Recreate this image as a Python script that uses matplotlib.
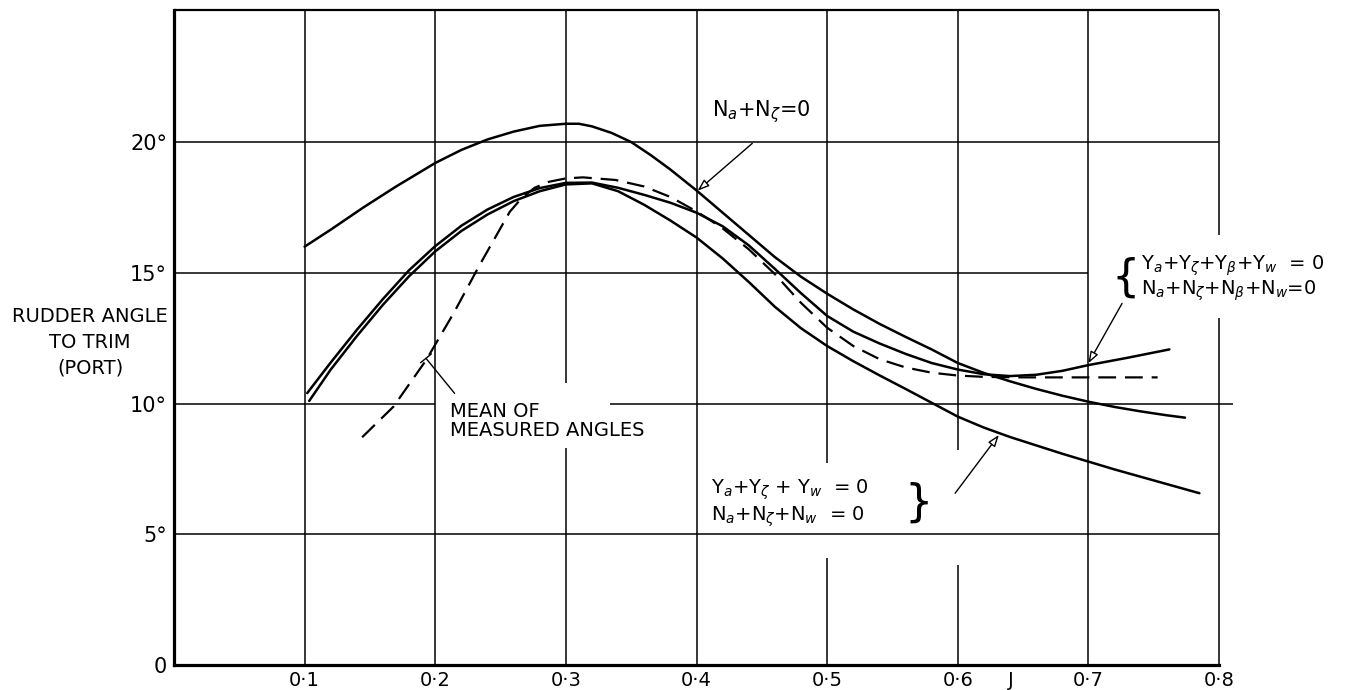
import matplotlib
matplotlib.use("Agg")
import matplotlib.pyplot as plt

plt.rcParams['font.family'] = ['DejaVu Sans']
plt.rcParams['mathtext.fontset'] = 'dejavusans'

# ---------------- data ----------------
# Curve: N_a + N_zeta = 0
j_nn = [0.100, 0.120, 0.145, 0.170, 0.200, 0.220, 0.240, 0.260, 0.280, 0.300,
        0.310, 0.320, 0.335, 0.350, 0.365, 0.380, 0.400, 0.420, 0.440, 0.460,
        0.480, 0.500, 0.520, 0.540, 0.560, 0.580, 0.600, 0.620, 0.640, 0.660,
        0.680, 0.700, 0.720, 0.740, 0.760, 0.774]
a_nn = [16.00, 16.65, 17.50, 18.30, 19.20, 19.70, 20.10, 20.40, 20.62, 20.70,
        20.70, 20.60, 20.35, 20.00, 19.50, 18.95, 18.15, 17.30, 16.45, 15.60,
        14.85, 14.20, 13.60, 13.05, 12.55, 12.07, 11.55, 11.17, 10.85, 10.56,
        10.30, 10.07, 9.87, 9.70, 9.55, 9.46]

# Curve: Y_a+Y_z+Y_b+Y_w = 0 , N_a+N_z+N_b+N_w = 0
j_full = [0.102, 0.120, 0.140, 0.160, 0.180, 0.200, 0.220, 0.240, 0.260, 0.280,
          0.300, 0.320, 0.340, 0.360, 0.380, 0.400, 0.420, 0.440, 0.460, 0.480,
          0.500, 0.520, 0.540, 0.560, 0.580, 0.600, 0.620, 0.640, 0.660, 0.680,
          0.700, 0.730, 0.762]
a_full = [10.40, 11.57, 12.82, 14.00, 15.10, 16.02, 16.80, 17.42, 17.90, 18.24,
          18.44, 18.45, 18.25, 17.98, 17.68, 17.30, 16.78, 16.05, 15.15, 14.22,
          13.35, 12.75, 12.30, 11.90, 11.55, 11.30, 11.12, 11.05, 11.10, 11.25,
          11.47, 11.75, 12.07]

# Curve: Y_a+Y_z+Y_w = 0 , N_a+N_z+N_w = 0
j_now = [0.1035, 0.120, 0.140, 0.160, 0.180, 0.200, 0.220, 0.240, 0.260, 0.280,
         0.300, 0.320, 0.340, 0.360, 0.380, 0.400, 0.420, 0.440, 0.460, 0.480,
         0.500, 0.520, 0.540, 0.560, 0.580, 0.600, 0.620, 0.640, 0.660, 0.680,
         0.700, 0.720, 0.740, 0.760, 0.785]
a_now = [10.10, 11.30, 12.58, 13.78, 14.87, 15.82, 16.60, 17.23, 17.74, 18.12,
         18.38, 18.42, 18.12, 17.60, 17.00, 16.35, 15.55, 14.65, 13.70, 12.88,
         12.20, 11.62, 11.08, 10.56, 10.03, 9.50, 9.08, 8.72, 8.40, 8.08,
         7.78, 7.48, 7.20, 6.92, 6.57]

# Mean of measured angles (dashed)
j_meas = [0.144, 0.168, 0.193, 0.214, 0.234, 0.257, 0.266, 0.276, 0.287, 0.300,
          0.313, 0.338, 0.360, 0.380, 0.400, 0.420, 0.440, 0.460, 0.480, 0.500,
          0.520, 0.540, 0.560, 0.580, 0.600, 0.620, 0.650, 0.700, 0.753]
a_meas = [8.71, 9.88, 11.66, 13.45, 15.30, 17.33, 17.85, 18.25, 18.48, 18.61,
          18.65, 18.55, 18.30, 17.90, 17.35, 16.70, 15.90, 14.95, 13.85, 12.90,
          12.20, 11.70, 11.38, 11.18, 11.07, 11.02, 11.00, 11.00, 11.00]

x_ticks = [0.1, 0.2, 0.3, 0.4, 0.5, 0.6, 0.7, 0.8]
x_tick_labels = ['0·1', '0·2', '0·3', '0·4', '0·5', '0·6', '0·7', '0·8']
y_ticks = [0, 5, 10, 15, 20]
y_tick_labels = ['0', '5°', '10°', '15°', '20°']

# ---------------- figure ----------------
W, H = 1356, 690
fig = plt.figure(figsize=(W / 100, H / 100), dpi=100)
ax = fig.add_axes([174 / W, 1 - 665 / H, (1219 - 174) / W, (665 - 9.5) / H])
ax.set_xlim(0, 0.8)
ax.set_ylim(0, 25.07)
ax.spines['top'].set_visible(False)
ax.spines['right'].set_visible(False)
ax.spines['left'].set_linewidth(2.3)
ax.spines['bottom'].set_linewidth(2.3)

top = 25.07
gk = dict(color='black', lw=1.1, clip_on=False, zorder=1)
# vertical grid lines (with the breaks of the original drawing)
ax.vlines(0.1, 0, top, **gk)
ax.vlines(0.2, 0, top, **gk)
ax.vlines(0.3, 10.78, top, **gk)
ax.vlines(0.3, 0, 8.3, **gk)
ax.vlines(0.4, 0, top, **gk)
ax.vlines(0.5, 7.72, top, **gk)
ax.vlines(0.5, 0, 4.09, **gk)
ax.vlines(0.6, 8.22, top, **gk)
ax.vlines(0.6, 0, 3.82, **gk)
ax.vlines(0.7, 0, top, **gk)
ax.vlines(0.8, 16.44, top, **gk)
ax.vlines(0.8, 0, 13.27, **gk)
# horizontal grid lines
ax.hlines(5, 0, 0.8, **gk)
ax.hlines(10, 0, 0.2, **gk)
ax.hlines(10, 0.334, 0.811, **gk)
ax.hlines(15, 0, 0.7, **gk)
ax.hlines(20, 0, 0.8, **gk)
ax.hlines(top, 0, 0.8, color='black', lw=1.6, clip_on=False, zorder=1)

ck = dict(color='black', lw=1.8, solid_capstyle='round', solid_joinstyle='round',
          zorder=3)
ax.plot(j_nn, a_nn, **ck)
ax.plot(j_full, a_full, **ck)
ax.plot(j_now, a_now, **ck)
ax.plot(j_meas, a_meas, color='black', lw=1.6, linestyle=(0, (8, 4)),
        dash_joinstyle='round', zorder=3)

# ticks
ax.set_xticks(x_ticks)
ax.set_xticklabels(x_tick_labels, fontsize=14)
ax.set_yticks(y_ticks)
ax.set_yticklabels(y_tick_labels, fontsize=15)
ax.tick_params(axis='both', length=0)
ax.tick_params(axis='x', pad=4)
ax.tick_params(axis='y', pad=5)
ax.annotate('J', xy=(0.641, 0), xycoords=('data', 'axes fraction'),
            xytext=(0, -4), textcoords='offset points', ha='center', va='top',
            fontsize=14)

# y axis title
for txt, yp in [('RUDDER ANGLE', 317), ('TO TRIM', 343), ('(PORT)', 368)]:
    fig.text(90 / W, 1 - yp / H, txt, ha='center', va='center', fontsize=14)

# annotations
arr = dict(arrowstyle='-|>,head_length=0.7,head_width=0.25', fc='white',
           ec='black', lw=1.0, shrinkA=0, shrinkB=0)

ax.text(0.4495, 21.15, r'N$_a$+N$_\zeta$=0', ha='center', va='center', fontsize=15)
ax.annotate('', xy=(0.4008, 18.14), xytext=(0.4427, 19.95), arrowprops=arr)

ax.text(0.7286, 14.8, '{', ha='center', va='center', fontsize=32, clip_on=False)
ax.text(0.740, 15.26, r'Y$_a$+Y$_\zeta$+Y$_\beta$+Y$_w$  = 0', ha='left', va='center',
        fontsize=14, clip_on=False)
ax.text(0.740, 14.30, r'N$_a$+N$_\zeta$+N$_\beta$+N$_w$=0', ha='left', va='center',
        fontsize=14, clip_on=False)
ax.annotate('', xy=(0.700, 11.54), xytext=(0.7258, 13.83), arrowprops=arr)

ax.text(0.411, 6.69, r'Y$_a$+Y$_\zeta$ + Y$_w$  = 0', ha='left', va='center', fontsize=14)
ax.text(0.411, 5.66, r'N$_a$+N$_\zeta$+N$_w$  = 0', ha='left', va='center', fontsize=14)
ax.text(0.570, 6.2, '}', ha='center', va='center', fontsize=32)
ax.annotate('', xy=(0.6315, 8.8), xytext=(0.598, 6.57), arrowprops=arr)

ax.text(0.211, 9.71, 'MEAN OF', ha='left', va='center', fontsize=14)
ax.text(0.211, 8.95, 'MEASURED ANGLES', ha='left', va='center', fontsize=14)
ax.annotate('', xy=(0.1929, 11.73), xytext=(0.2148, 10.39),
            arrowprops=dict(arrowstyle='-[,widthB=0.5,lengthB=0', lw=1.0,
                            shrinkA=0, shrinkB=0))

fig.savefig('out.png', dpi=100, facecolor='white')
